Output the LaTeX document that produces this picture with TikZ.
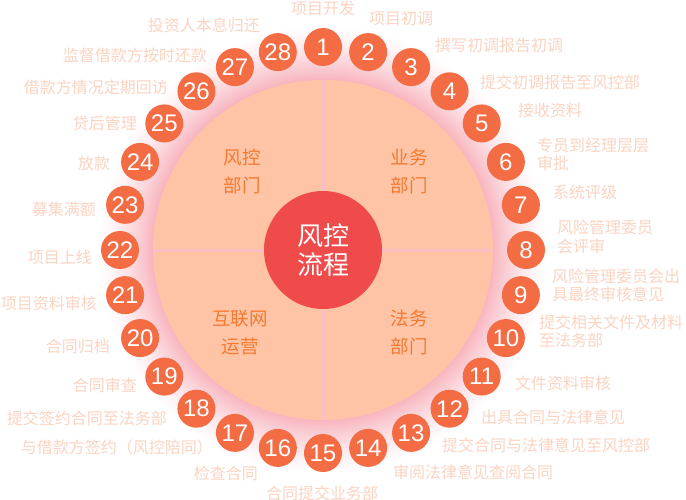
\documentclass[tikz,border=0pt]{standalone}
\usepackage{fontspec}
\newfontfamily\cjk{Noto Sans CJK SC}
\newfontfamily\numfont{Liberation Sans}
\definecolor{peach}{HTML}{FFC4A5}
\definecolor{numred}{HTML}{F46C43}
\definecolor{corered}{HTML}{F04B4B}
\definecolor{labcol}{HTML}{FBD4C2}
\definecolor{deptcol}{HTML}{F5792F}
\definecolor{crossc}{HTML}{F9BFC2}
\definecolor{glowpink}{HTML}{F8B4BE}
\begin{document}
\begin{tikzpicture}[x=1pt,y=-1pt,
  numc/.style={circle,fill=numred,minimum size=38pt,inner sep=0pt,text=white,font=\numfont\fontsize{24}{24}\selectfont},
  lab/.style={inner sep=0pt,text=labcol,font=\cjk\fontsize{16}{18.5}\selectfont},
  labr/.style={lab,anchor=west,align=left},
  labl/.style={lab,anchor=east,align=right},
  dept/.style={inner sep=0pt,text=deptcol,align=center,font=\cjk\fontsize{18.5}{28}\selectfont},
  corenode/.style={circle,fill=corered,minimum size=118pt,inner sep=0pt,text=white,align=center,font=\cjk\fontsize{26}{29}\selectfont}]
\useasboundingbox[fill=white] (0,0) rectangle (686,500);
\coordinate (c) at (323,250);
\foreach \r in {226,225,...,171}{
  \pgfmathsetmacro\p{100*((226-\r)/56)^1.4}
  \fill[glowpink!\p!white] (c) circle (\r pt);
}
\fill[peach] (c) circle (170pt);
\coordinate (ct) at (323,80);
\coordinate (cb) at (323,420);
\coordinate (cl) at (153,250);
\coordinate (cr) at (493,250);
\draw[crossc,line width=3pt] (ct) -- (cb);
\draw[crossc,line width=3pt] (cl) -- (cr);
\node[corenode] (core) at (c) {风控\\流程};
\node[dept] (d1) at (242,171) {风控\\部门};
\node[dept] (d2) at (409,171) {业务\\部门};
\node[dept] (d3) at (240,332.5) {互联网\\运营};
\node[dept] (d4) at (409,332.5) {法务\\部门};
\foreach \k in {1,...,28}{
  \node[numc] (n\k) at ([shift={({90-(\k-1)*360/28}:203pt)}]c) {\k};
}
\node[lab] (l1) at (323,8) {项目开发};
\node[labr] (l2) at (369,18) {项目初调};
\node[labr] (l3) at (435,45) {撰写初调报告初调};
\node[labr] (l4) at (480,82) {提交初调报告至风控部};
\node[labr] (l5) at (518,110) {接收资料};
\node[labr] (l6) at (537,154.5) {专员到经理层层\\审批};
\node[labr] (l7) at (553,192) {系统评级};
\node[labr] (l8) at (557,237) {风险管理委员\\会评审};
\node[labr] (l9) at (552,285.5) {风险管理委员会出\\具最终审核意见};
\node[labr] (l10) at (539,331.5) {提交相关文件及材料\\至法务部};
\node[labr] (l11) at (515,383) {文件资料审核};
\node[labr] (l12) at (481,417) {出具合同与法律意见};
\node[labr] (l13) at (442,445) {提交合同与法律意见至风控部};
\node[labr] (l14) at (393,472) {审阅法律意见查阅合同};
\node[lab] (l15) at (322,493) {合同提交业务部};
\node[labl] (l16) at (258,473) {检查合同};
\node[labl] (l17) at (213,447) {与借款方签约（风控陪同）};
\node[labl] (l18) at (167,418) {提交签约合同至法务部};
\node[labl] (l19) at (137,385) {合同审查};
\node[labl] (l20) at (110,346) {合同归档};
\node[labl] (l21) at (97,303) {项目资料审核};
\node[labl] (l22) at (92,257) {项目上线};
\node[labl] (l23) at (96,209) {募集满额};
\node[labl] (l24) at (110,163) {放款};
\node[labl] (l25) at (137,123) {贷后管理};
\node[labl] (l26) at (168,87) {借款方情况定期回访};
\node[labl] (l27) at (207,55) {监督借款方按时还款};
\node[labl] (l28) at (260,25) {投资人本息归还};
\end{tikzpicture}
\end{document}
